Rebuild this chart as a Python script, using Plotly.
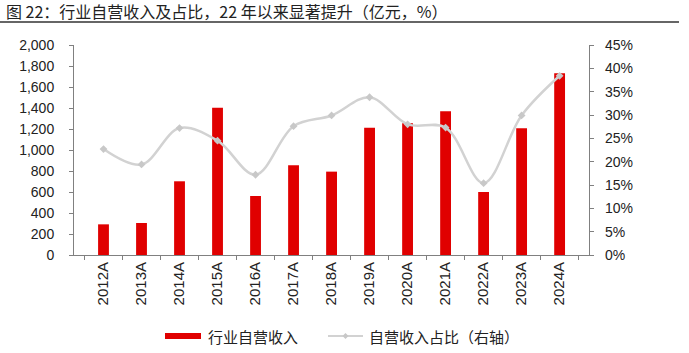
import plotly.graph_objects as go
from plotly.subplots import make_subplots

years = ["2012A", "2013A", "2014A", "2015A", "2016A", "2017A", "2018A",
         "2019A", "2020A", "2021A", "2022A", "2023A", "2024A"]
income = [292, 305, 702, 1403, 562, 854, 794, 1213, 1254, 1368, 600, 1206, 1730]
share = [0.227, 0.194, 0.272, 0.245, 0.172, 0.276, 0.299, 0.338, 0.280, 0.273, 0.154, 0.299, 0.384]

title_text = "图 22：行业自营收入及占比，22 年以来显著提升（亿元，%）"
bar_name = "行业自营收入"
line_name = "自营收入占比（右轴）"

BAR_COLOR = "#E00000"
LINE_COLOR = "#D2D2D2"
AXIS_COLOR = "#808080"
TEXT_COLOR = "#222222"
FONT = "Liberation Sans, Arial, Noto Sans CJK SC, sans-serif"
CJK = "Noto Sans CJK SC, sans-serif"

fig = make_subplots(specs=[[{"secondary_y": True}]])
fig.add_trace(go.Bar(x=years, y=income, marker=dict(color=BAR_COLOR, line=dict(width=0)),
                     name=bar_name, showlegend=False), secondary_y=False)
fig.add_trace(go.Scatter(x=years, y=share, mode="lines+markers",
                         line=dict(color=LINE_COLOR, width=2.5, shape="spline", smoothing=1.0),
                         marker=dict(symbol="diamond", size=6, color="#C8C8C8"),
                         name=line_name, showlegend=False), secondary_y=True)

fig.update_layout(
    width=689, height=353,
    margin=dict(l=74, r=67, t=45, b=98),
    paper_bgcolor="white", plot_bgcolor="white",
    bargap=0.715,
    font=dict(family=FONT, size=14, color=TEXT_COLOR),
    showlegend=False,
)
fig.update_xaxes(showline=True, linecolor=AXIS_COLOR, linewidth=1,
                 ticks="outside", tickson="boundaries", ticklen=4, tickcolor=AXIS_COLOR,
                 tickangle=-90, tickfont=dict(size=15, family=FONT), showgrid=False)
fig.update_yaxes(range=[0, 2000], dtick=200, tickformat=",", showline=True,
                 linecolor=AXIS_COLOR, linewidth=1, ticks="outside", ticklen=4,
                 tickcolor=AXIS_COLOR, showgrid=False, zeroline=False,
                 ticklabelstandoff=12, tickfont=dict(size=14, family=FONT),
                 secondary_y=False)
fig.update_yaxes(range=[0, 0.45], dtick=0.05, tickformat=".0%", showline=True,
                 linecolor=AXIS_COLOR, linewidth=1, ticks="outside", ticklen=4,
                 tickcolor=AXIS_COLOR, showgrid=False, zeroline=False,
                 ticklabelstandoff=8, tickfont=dict(size=14, family=FONT),
                 secondary_y=True)

# Title and underline
fig.add_annotation(xref="paper", yref="paper", x=-70/548, y=1 + (45 - 11) / 210,
                   xanchor="left", yanchor="middle", showarrow=False,
                   text=title_text, font=dict(family=CJK, size=16, color="#222222"))
fig.add_shape(type="line", xref="paper", yref="paper",
              x0=-74/548, x1=(679 - 74) / 548, y0=1 + (45 - 22) / 210, y1=1 + (45 - 22) / 210,
              line=dict(color="#666666", width=2))

# Custom legend
ly = (255 - 336) / 210
fig.add_shape(type="rect", xref="paper", yref="paper",
              x0=(165 - 74) / 548, x1=(201 - 74) / 548,
              y0=ly - 3 / 210, y1=ly + 3 / 210,
              fillcolor=BAR_COLOR, line=dict(width=0))
fig.add_annotation(xref="paper", yref="paper", x=(206 - 74) / 548, y=ly,
                   xanchor="left", yanchor="middle", showarrow=False,
                   text=bar_name, font=dict(family=CJK, size=15, color=TEXT_COLOR))
fig.add_shape(type="line", xref="paper", yref="paper",
              x0=(328 - 74) / 548, x1=(363 - 74) / 548, y0=ly, y1=ly,
              line=dict(color=LINE_COLOR, width=2))
fig.add_shape(type="path", xref="paper", yref="paper",
              path="M {a},{b} L {c},{d} L {a},{e} L {f},{d} Z".format(
                  a=(345.5 - 74) / 548, b=ly + 3 / 210, c=(348.5 - 74) / 548,
                  d=ly, e=ly - 3 / 210, f=(342.5 - 74) / 548),
              fillcolor="#C8C8C8", line=dict(width=0))
fig.add_annotation(xref="paper", yref="paper", x=(367 - 74) / 548, y=ly,
                   xanchor="left", yanchor="middle", showarrow=False,
                   text=line_name, font=dict(family=CJK, size=15, color=TEXT_COLOR))

fig.write_html("out.html")
